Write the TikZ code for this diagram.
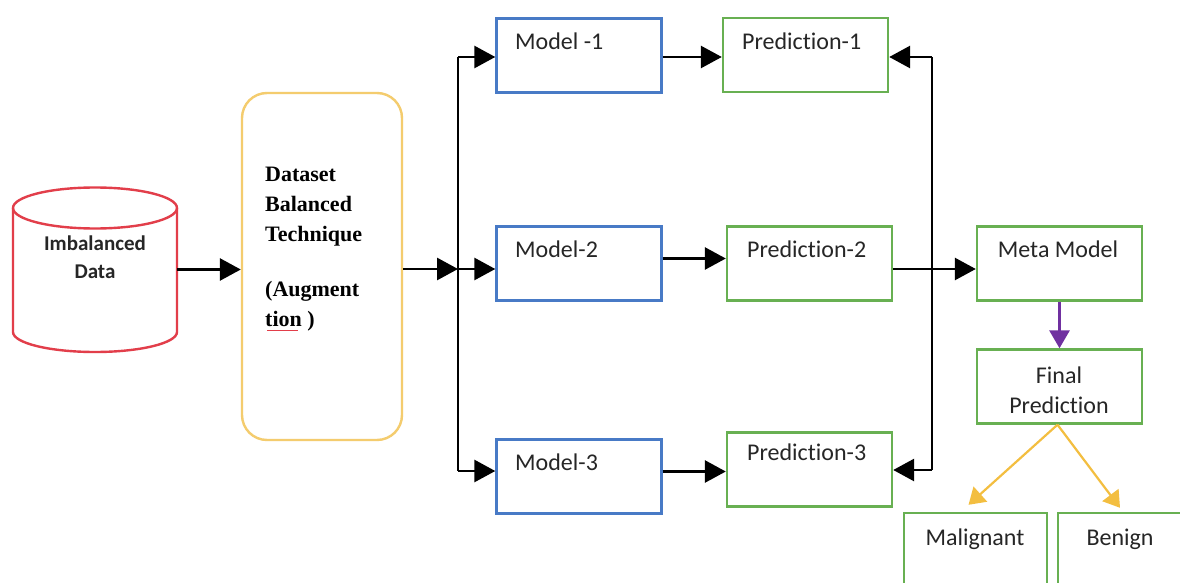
\documentclass[tikz,border=0pt]{standalone}
\usepackage{fontspec}
\setmainfont{Carlito}[Ligatures=NoCommon]
\newfontfamily\serifb{Liberation Serif}
\usetikzlibrary{arrows.meta,calc}
\definecolor{cred}{RGB}{226,62,74}
\definecolor{cyel}{RGB}{244,204,110}
\definecolor{cblue}{RGB}{72,122,198}
\definecolor{cgreen}{RGB}{104,176,82}
\definecolor{cpurp}{RGB}{112,48,160}
\definecolor{corange}{RGB}{243,190,64}
\definecolor{ctext}{RGB}{38,38,38}
\begin{document}
\begin{tikzpicture}[x=1pt,y=-1pt,
  bx/.style={draw, line width=2.4pt, minimum width=165pt, minimum height=74pt, inner sep=0pt},
  mbox/.style={bx, draw=cblue},
  gbox/.style={bx, draw=cgreen},
  lbl/.style={font=\fontsize{24}{30}\selectfont, text=ctext, inner sep=0pt},
  arr/.style={line width=2.9pt, -{Triangle[length=21pt,width=22pt]}},
  bus/.style={line width=2.9pt},
  parr/.style={line width=3pt, draw=cpurp, -{Triangle[length=18pt,width=20pt]}},
  oarr/.style={line width=2.2pt, draw=corange, -{Triangle[length=16pt,width=20pt]}},
]
\useasboundingbox (0,0) rectangle (1180,583);
\clip (0,0) rectangle (1180,583);
\fill[white] (0,0) rectangle (1180,583);

% cylinder
\node[minimum width=164pt, minimum height=165pt, inner sep=0pt] (imb) at (95,269.5) {};
\draw[cred, line width=2.4pt] (13,208) -- (13,332)
  arc[start angle=180, end angle=360, x radius=82pt, y radius=20pt] -- (177,208);
\draw[cred, line width=2.4pt] (95,208) ellipse [x radius=82pt, y radius=20.5pt];
\node[font=\bfseries\fontsize{21}{28}\selectfont, text=ctext, align=center, inner sep=0pt, anchor=base] (imbt) at (95,278) {Imbalanced\\Data};

% balancing box
\node[draw=cyel, line width=2.4pt, rounded corners=25pt, minimum width=160pt, minimum height=347pt] (bal) at (322,266.5) {};
\node[anchor=north west, align=left, inner sep=0pt, font=\serifb\bfseries\fontsize{22}{30}\selectfont] (balt) at (265,167) {Dataset\\Balanced\\Technique\\[25pt](Augment\\tion )};
\draw[cred, line width=0.7pt] (267,330) -- (298,330);

% models
\node[mbox] (m1) at (579,55.5) {};
\node[mbox] (m2) at (579,263.5) {};
\node[mbox] (m3) at (579,476.5) {};
\node[lbl, anchor=base west] (m1t) at (515,50) {Model -1};
\node[lbl, anchor=base west] (m2t) at (515,257) {Model-2};
\node[lbl, anchor=base west] (m3t) at (515,470) {Model-3};

% predictions
\node[gbox] (p1) at (805.5,55) {};
\node[gbox] (p2) at (809.5,263.5) {};
\node[gbox] (p3) at (809.5,469.5) {};
\node[lbl, anchor=base west] (p1t) at (742,50) {Prediction-1};
\node[lbl, anchor=base west] (p2t) at (747,257) {Prediction-2};
\node[lbl, anchor=base west] (p3t) at (747,460) {Prediction-3};

% meta / final
\node[gbox] (meta) at (1059.5,263.5) {};
\node[lbl, anchor=base] (metat) at (1058,257) {Meta Model};
\node[gbox] (final) at (1059.5,386.5) {};
\node[lbl, anchor=base, align=center] (finalt) at (1059,413) {Final\\Prediction};
\node[gbox, minimum width=143pt, minimum height=85pt] (mal) at (975.5,555.5) {};
\node[gbox, minimum width=132pt, minimum height=85pt] (ben) at (1124,555.5) {};
\node[lbl, anchor=base] (malt) at (975,545) {Malignant};
\node[lbl, anchor=base] (bent) at (1120,545) {Benign};

% connectors
\draw[arr] (imb.east) -- (imb.east -| bal.west);
\coordinate (bT) at (458,57);
\coordinate (bM) at (458,269);
\coordinate (bB) at (458,471);
\draw[bus] (bT) -- (bB);
\draw[arr] (bal.east |- bM) -- (bM);
\draw[arr] (bT) -- (bT -| m1.west);
\draw[arr] (bM) -- (bM -| m2.west);
\draw[arr] (bB) -- (bB -| m3.west);

\draw[arr] ([yshift=-1.5pt]m1.east) -- ([yshift=-1.5pt]m1.east -| p1.west);
\draw[arr] ([yshift=5pt]m2.east) -- ([yshift=5pt]m2.east -| p2.west);
\draw[arr] ([yshift=5pt]m3.east) -- ([yshift=5pt]m3.east -| p3.west);

\coordinate (rT) at (932,57);
\coordinate (rB) at (932,470);
\draw[bus] (rT) -- (rB);
\draw[arr] (rT) -- (rT -| p1.east);
\draw[arr] (rB) -- (rB -| p3.east);
\draw[arr] ([yshift=-5.5pt]p2.east) -- ([yshift=-5.5pt]p2.east -| meta.west);

\draw[parr] (meta.south) -- (final.north);
\draw[oarr] ([xshift=-2pt]final.south) -- ([xshift=-7pt,yshift=7pt]mal.north);
\draw[oarr] ([xshift=-2pt]final.south) -- ([xshift=-4pt,yshift=4pt]ben.north);
\end{tikzpicture}
\end{document}
